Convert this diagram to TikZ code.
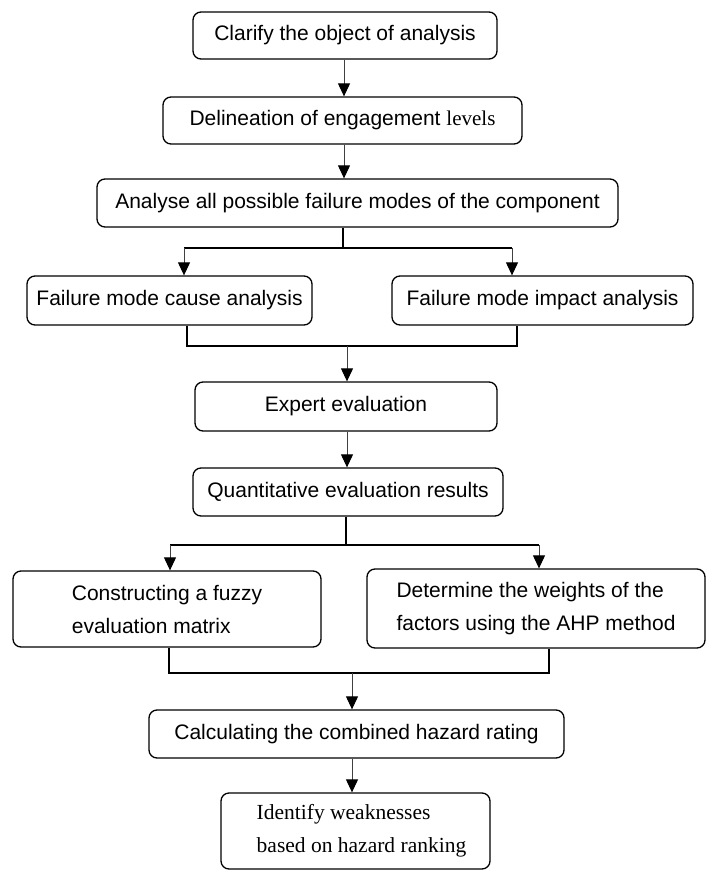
\documentclass[tikz,border=0pt]{standalone}
\usepackage{fontspec}
\setmainfont{Liberation Sans}
\newfontfamily\serifface{Liberation Serif}
\usetikzlibrary{arrows.meta}

\tikzset{
  stepbox/.style={draw=black, line width=1.3pt, rounded corners=8pt, inner sep=0pt,
    font=\fontsize{21}{33}\selectfont, align=center},
  twoline/.style={align=left},
  link/.style={draw=black, line width=1.2pt},
  flow/.style={draw=black!75, line width=1pt,
    -{Triangle[length=13pt,width=12pt,color=black]}}
}

\begin{document}
\begin{tikzpicture}[x=1pt, y=-1pt]
\useasboundingbox (0,0) rectangle (707,870);

% main column of steps
\node[stepbox, minimum width=304pt, minimum height=47pt] (b1) at (345,35.5) {Clarify the object of analysis};
\node[stepbox, minimum width=359pt, minimum height=47pt] (b2) at (342.5,120.5) {Delineation of engagement {\serifface levels}};
\node[stepbox, minimum width=521pt, minimum height=48pt] (b3) at (357.5,203) {Analyse all possible failure modes of the component};
\node[stepbox, minimum width=285pt, minimum height=49pt] (b4) at (169.5,300.5) {Failure mode cause analysis};
\node[stepbox, minimum width=301pt, minimum height=49pt] (b5) at (542.5,300.5) {Failure mode impact analysis};
\node[stepbox, minimum width=302pt, minimum height=49pt] (b6) at (346,406.5) {Expert evaluation};
\node[stepbox, minimum width=310pt, minimum height=48pt] (b7) at (348,492) {Quantitative evaluation results};
\node[stepbox, twoline, minimum width=308pt, minimum height=76pt] (b8) at (167,609) {Constructing a fuzzy\\evaluation matrix};
\node[stepbox, twoline, minimum width=338pt, minimum height=79pt] (b9) at (536,608.5) {Determine the weights of the\\factors using the AHP method};
\node[stepbox, minimum width=415pt, minimum height=48pt] (b10) at (356.5,734) {Calculating the combined hazard rating};
\node[stepbox, twoline, minimum width=269pt, minimum height=76pt, font=\serifface\fontsize{21.5}{33}\selectfont] (b11) at (355.5,831) {\hspace*{12pt}Identify weaknesses\\\hspace*{12pt}based on hazard ranking};

% trunk positions of the connectors
\coordinate (ax) at (344,0);
\coordinate (t1) at (343,248);
\coordinate (t1L) at (184,248);
\coordinate (t1R) at (512,248);
\coordinate (j1L) at (187,346);
\coordinate (j1R) at (517,346);
\coordinate (j1) at (347,346);
\coordinate (t2) at (346,545);
\coordinate (t2L) at (170,545);
\coordinate (t2R) at (539,545);
\coordinate (j2L) at (169,673);
\coordinate (j2R) at (549,673);
\coordinate (j2) at (352,673);

% straight steps
\draw[flow] (b1.south -| ax) -- (b2.north -| ax);
\draw[flow] (b2.south -| ax) -- (b3.north -| ax);

% split into cause / impact analysis
\draw[link] (b3.south -| t1) -- (t1);
\draw[link] (t1L) -- (t1R);
\draw[flow] (t1L) -- (t1L |- b4.north);
\draw[flow] (t1R) -- (t1R |- b5.north);

% merge into expert evaluation
\draw[link] (b4.south -| j1L) -- (j1L) -- (j1R) -- (b5.south -| j1R);
\draw[flow] (j1) -- (j1 |- b6.north);
\draw[flow] (b6.south -| j1) -- (b7.north -| j1);

% split into fuzzy matrix / AHP weights
\draw[link] (b7.south -| t2) -- (t2);
\draw[link] (t2L) -- (t2R);
\draw[flow] (t2L) -- (t2L |- b8.north);
\draw[flow] (t2R) -- (t2R |- b9.north);

% merge into the combined rating
\draw[link] (b8.south -| j2L) -- (j2L) -- (j2R) -- (b9.south -| j2R);
\draw[flow] (j2) -- (j2 |- b10.north);
\draw[flow] (b10.south -| j2) -- (b11.north -| j2);
\end{tikzpicture}
\end{document}
